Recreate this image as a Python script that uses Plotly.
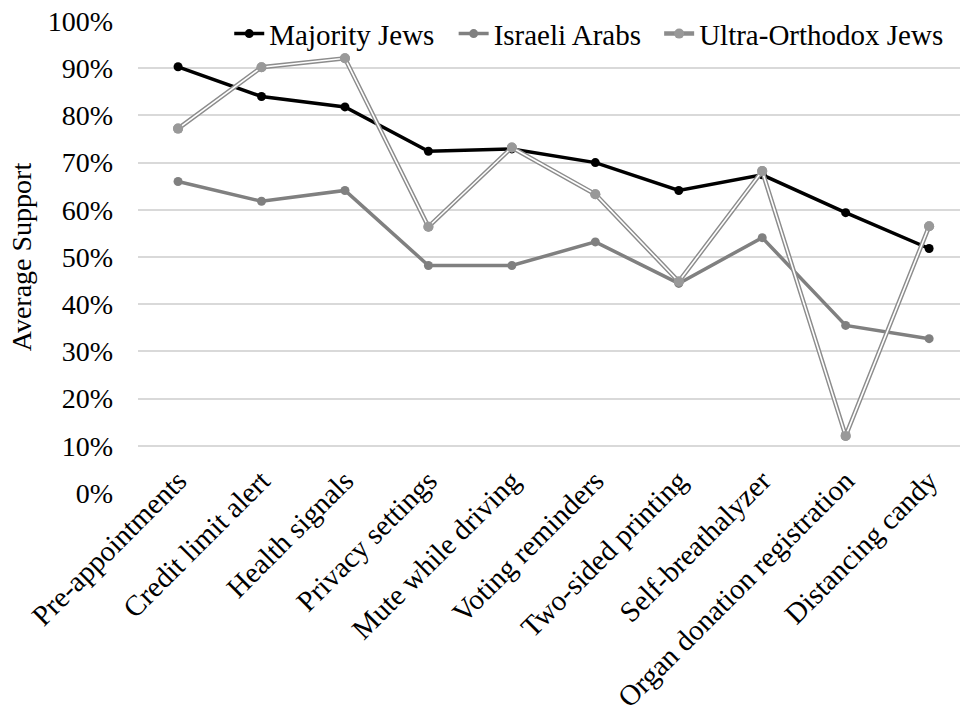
import plotly.graph_objects as go

# ── Data ────────────────────────────────────────────────────────────────────
categories = [
    "Pre-appointments", "Credit limit alert", "Health signals", "Privacy settings",
    "Mute while driving", "Voting reminders", "Two-sided printing",
    "Self-breathalyzer", "Organ donation registration", "Distancing candy",
]
majority_jews = [90.3, 84.0, 81.8, 72.4, 72.9, 70.0, 64.1, 67.4, 59.4, 51.8]
israeli_arabs = [66.0, 61.8, 64.1, 48.2, 48.2, 53.2, 44.4, 54.1, 35.5, 32.7]
ultra_orthodox = [77.2, 90.2, 92.1, 56.4, 73.2, 63.3, 44.8, 68.2, 12.1, 56.5]
y_ticks = list(range(0, 101, 10))
y_tick_labels = [f"{v}%" for v in y_ticks]

FONT = "Liberation Serif"
x_idx = list(range(len(categories)))

fig = go.Figure()

fig.add_trace(go.Scatter(
    x=x_idx, y=majority_jews, name="Majority Jews", mode="lines+markers",
    line=dict(color="#000000", width=3.5),
    marker=dict(color="#000000", size=9),
    legend="legend",
))
fig.add_trace(go.Scatter(
    x=x_idx, y=israeli_arabs, name="Israeli Arabs", mode="lines+markers",
    line=dict(color="#808080", width=3.5),
    marker=dict(color="#808080", size=9),
    legend="legend2",
))
# Ultra-Orthodox: double line (gray outline with white core)
fig.add_trace(go.Scatter(
    x=x_idx, y=ultra_orthodox, name="Ultra-Orthodox Jews", mode="lines+markers",
    line=dict(color="#8c8c8c", width=4.5),
    marker=dict(color="#999999", size=10),
    legend="legend3",
))
fig.add_trace(go.Scatter(
    x=x_idx, y=ultra_orthodox, mode="lines", showlegend=False, hoverinfo="skip",
    line=dict(color="#ffffff", width=1.6),
))
fig.add_trace(go.Scatter(
    x=x_idx, y=ultra_orthodox, mode="markers", showlegend=False, hoverinfo="skip",
    marker=dict(color="#999999", size=10),
))

legend_style = dict(
    orientation="h", y=1.027, xanchor="left", yanchor="top",
    font=dict(family=FONT, size=29, color="#000000"),
    bgcolor="rgba(255,255,255,0)", itemwidth=30,
)

fig.update_layout(
    template="none",
    width=960, height=713,
    margin=dict(l=138, r=0, t=21, b=220),
    paper_bgcolor="white", plot_bgcolor="white",
    font=dict(family=FONT, size=28, color="#000000"),
    showlegend=True,
    legend=dict(x=0.111, **legend_style),
    legend2=dict(x=0.384, **legend_style),
    legend3=dict(x=0.634, **legend_style),
)
fig.update_xaxes(
    range=[-0.48, 9.37], automargin=False,
    tickvals=x_idx, ticktext=categories, tickangle=-45,
    ticklabelstandoff=-36,
    showgrid=False, zeroline=False, showline=False, ticks="",
    tickfont=dict(family=FONT, size=29, color="#000000"),
)
fig.update_yaxes(
    range=[0, 100], automargin=False,
    tickvals=y_ticks, ticktext=y_tick_labels,
    ticklabelstandoff=24,
    showgrid=True, gridcolor="#d9d9d9", gridwidth=1.5,
    zeroline=False, showline=False, ticks="",
    tickfont=dict(family=FONT, size=28, color="#000000"),
    title=dict(text="Average Support", font=dict(family=FONT, size=28), standoff=7),
)

fig.write_html(
    "out.html",
    config={"displayModeBar": False},
    post_script="document.body.style.margin='0';",
)
